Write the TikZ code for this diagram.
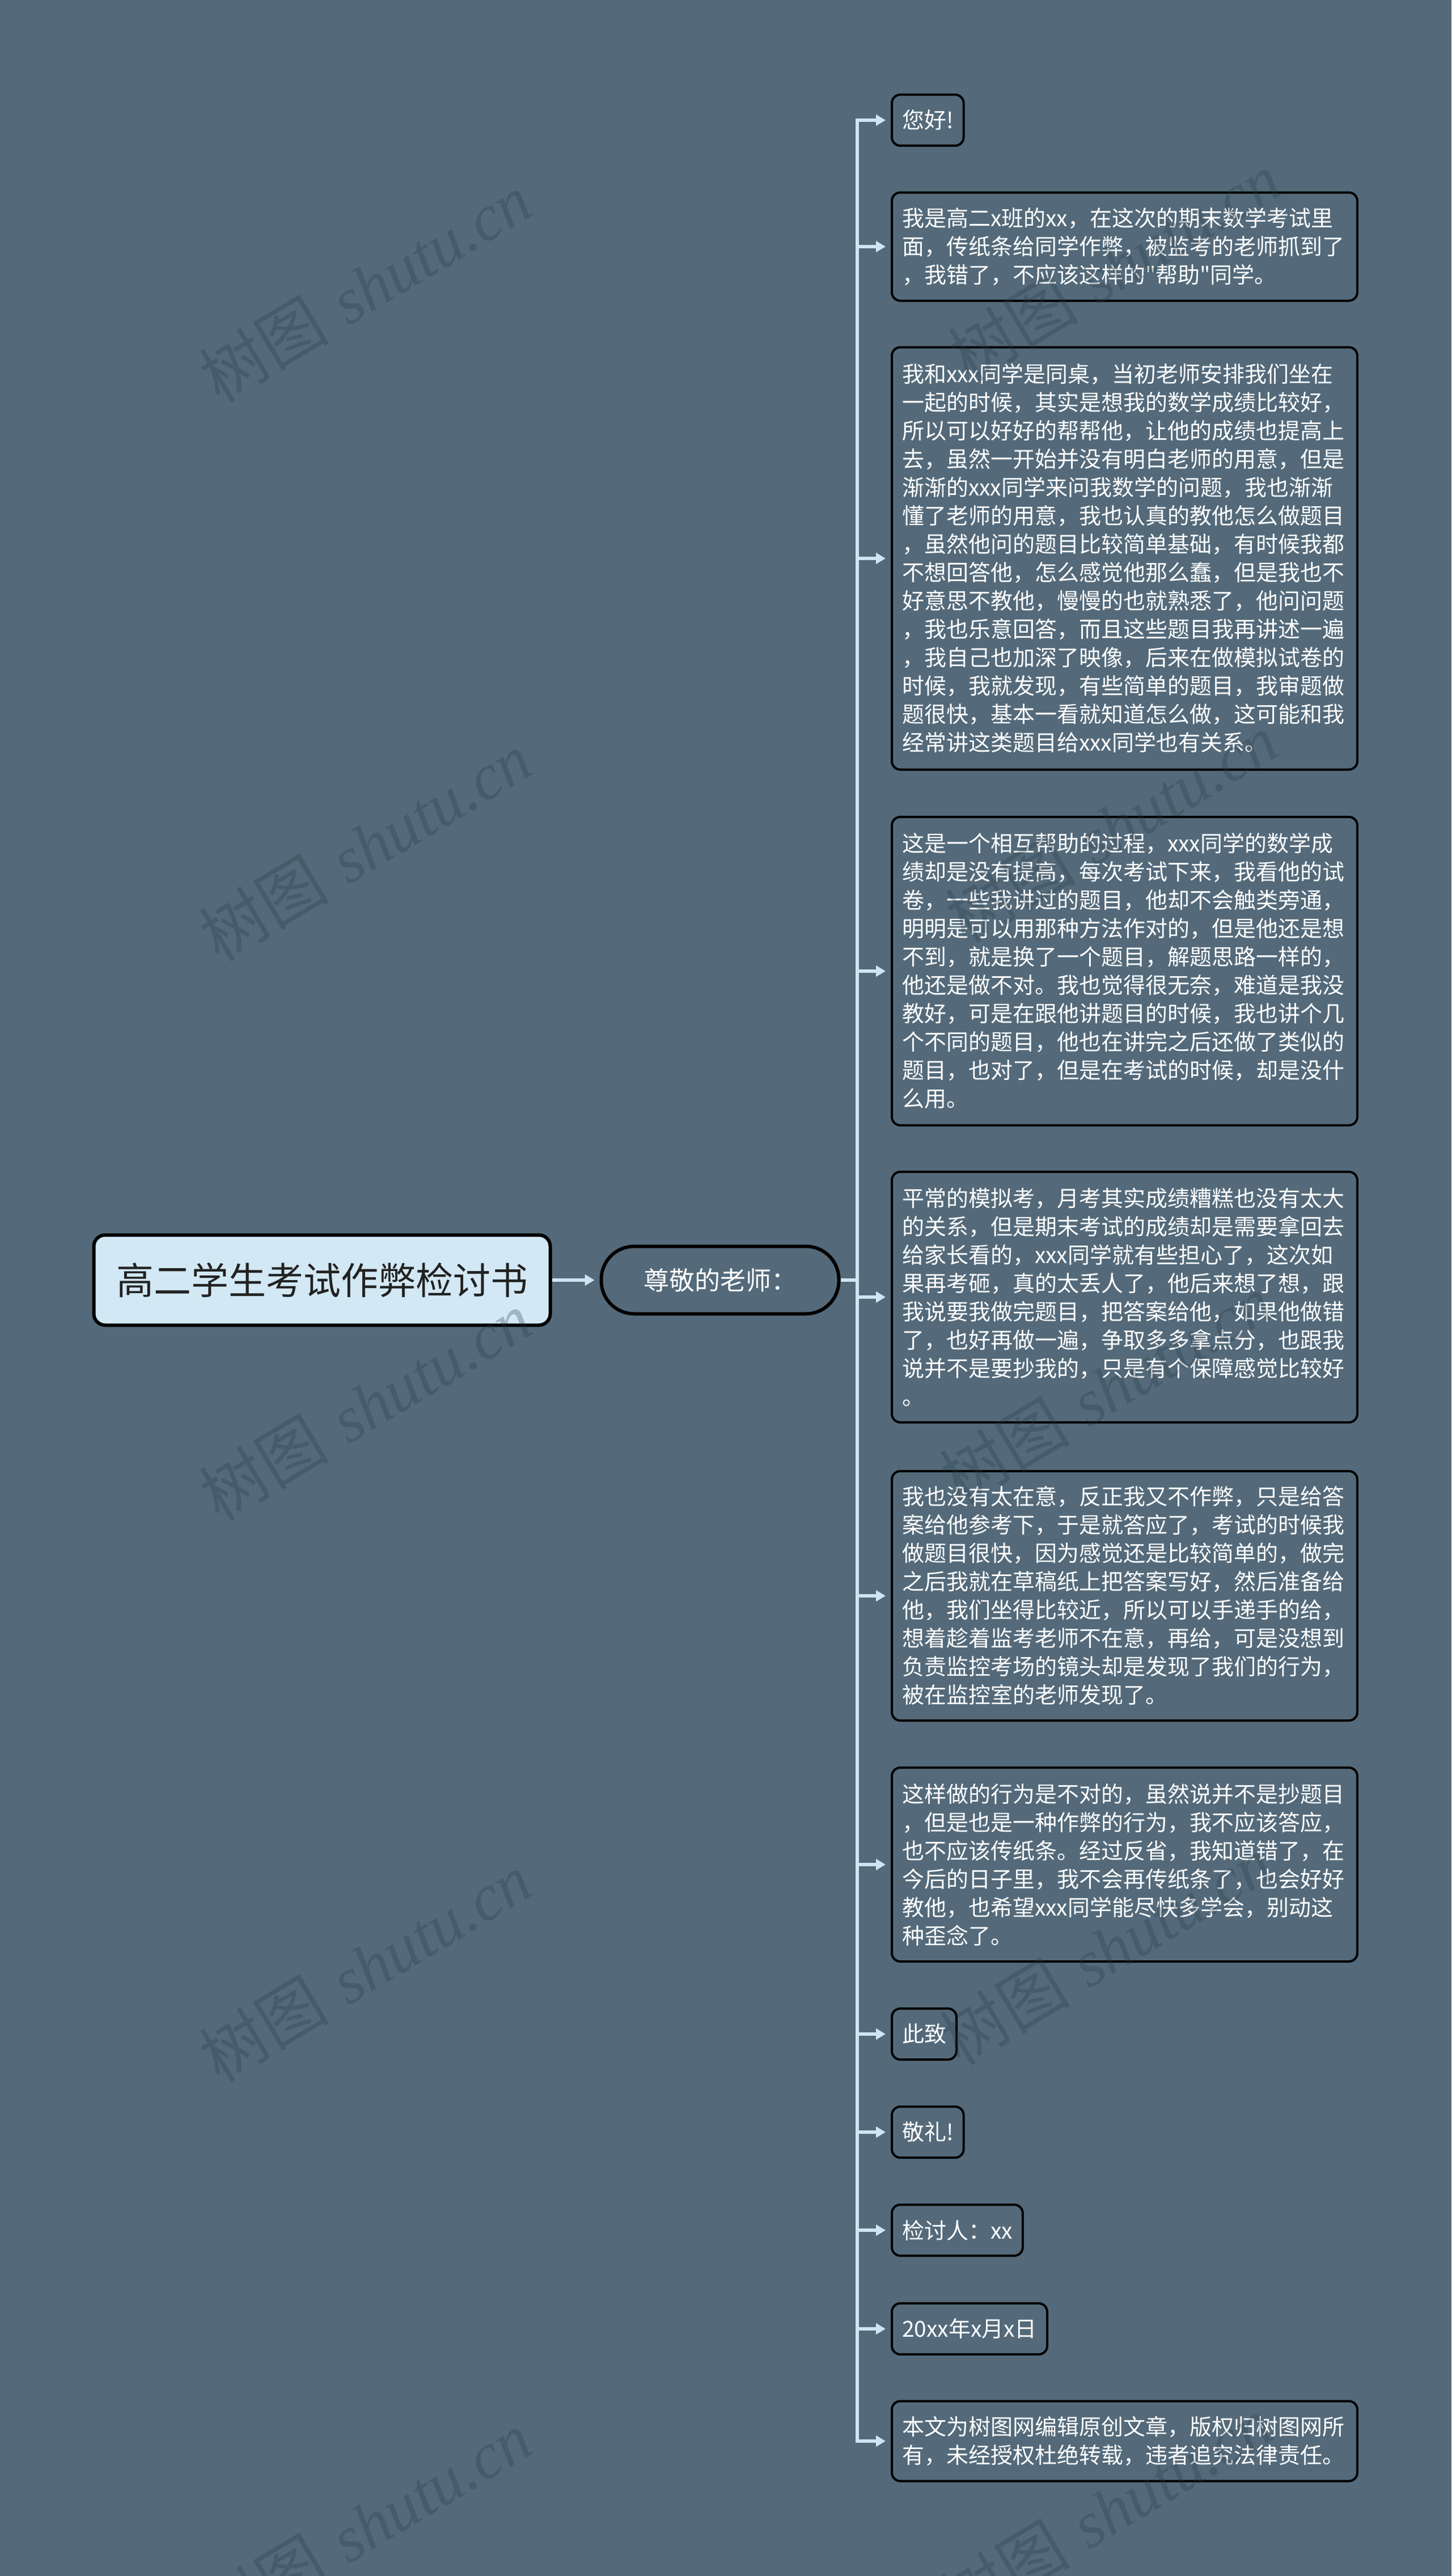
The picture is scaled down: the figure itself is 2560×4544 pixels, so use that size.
\documentclass[tikz,border=0pt]{standalone}
\usepackage{fontspec}
\newfontfamily\cjk{Noto Sans CJK SC}
\newfontfamily\wmlat{Liberation Serif}
\usetikzlibrary{arrows.meta}
\definecolor{bg}{RGB}{84,106,122}
\definecolor{connc}{RGB}{207,229,242}
\definecolor{rootfill}{RGB}{210,232,244}
\definecolor{wmc}{RGB}{40,60,75}
\tikzset{
  leaf/.style={draw=black, line width=4pt, fill=bg, rounded corners=15pt, anchor=west,
    font=\cjk\fontsize{39}{50}\selectfont, text=white, inner xsep=18pt, inner ysep=0pt,
    align=left, minimum height=90pt},
  bigleaf/.style={leaf, text width=785pt},
  rootbox/.style={draw=black, line width=6pt, fill=rootfill, rounded corners=20pt,
    font=\cjk\fontsize{66}{72}\selectfont, text={rgb,255:red,34;green,34;blue,34},
    minimum width=805pt, minimum height=159pt, inner sep=0pt},
  pill/.style={draw=black, line width=6pt, fill=bg, rounded corners=58pt,
    font=\cjk\fontsize{45}{50}\selectfont, text=white,
    minimum width=419pt, minimum height=119pt, inner sep=0pt},
  conn/.style={draw=connc, line width=6pt, -{Triangle[length=17pt,width=19pt]}, shorten >=9pt},
  plainline/.style={draw=connc, line width=6pt},
  wmark/.style={text=wmc, opacity=0.3, rotate=31, font=\fontsize{115}{120}\selectfont, inner sep=0pt},
}
\newcommand{\wmtext}{{\cjk 树图} {\wmlat\itshape shutu.cn}}
\begin{document}
\begin{tikzpicture}[x=1pt,y=-1pt]
\useasboundingbox (0,0) rectangle (2560,4544);
\fill[bg] (0,0) rectangle (2560,4544);

% root and second level
\node[rootbox] (root) at (568,2258) {高二学生考试作弊检讨书};
\node[pill] (n2) at (1270,2258) {尊敬的老师：};

% children
\node[leaf] (c1) at (1571,212) {您好!};
\node[bigleaf, minimum height=191pt] (c2) at (1571,435) {我是高二x班的xx，在这次的期末数学考试里\\面，传纸条给同学作弊，被监考的老师抓到了\\，我错了，不应该这样的"帮助"同学。};
\node[bigleaf, minimum height=745pt] (c3) at (1571,985) {我和xxx同学是同桌，当初老师安排我们坐在\\一起的时候，其实是想我的数学成绩比较好，\\所以可以好好的帮帮他，让他的成绩也提高上\\去，虽然一开始并没有明白老师的用意，但是\\渐渐的xxx同学来问我数学的问题，我也渐渐\\懂了老师的用意，我也认真的教他怎么做题目\\，虽然他问的题目比较简单基础，有时候我都\\不想回答他，怎么感觉他那么蠢，但是我也不\\好意思不教他，慢慢的也就熟悉了，他问问题\\，我也乐意回答，而且这些题目我再讲述一遍\\，我自己也加深了映像，后来在做模拟试卷的\\时候，我就发现，有些简单的题目，我审题做\\题很快，基本一看就知道怎么做，这可能和我\\经常讲这类题目给xxx同学也有关系。};
\node[bigleaf, minimum height=544pt] (c4) at (1571,1713) {这是一个相互帮助的过程，xxx同学的数学成\\绩却是没有提高，每次考试下来，我看他的试\\卷，一些我讲过的题目，他却不会触类旁通，\\明明是可以用那种方法作对的，但是他还是想\\不到，就是换了一个题目，解题思路一样的，\\他还是做不对。我也觉得很无奈，难道是我没\\教好，可是在跟他讲题目的时候，我也讲个几\\个不同的题目，他也在讲完之后还做了类似的\\题目，也对了，但是在考试的时候，却是没什\\么用。};
\node[bigleaf, minimum height=442pt] (c5) at (1571,2288) {平常的模拟考，月考其实成绩糟糕也没有太大\\的关系，但是期末考试的成绩却是需要拿回去\\给家长看的，xxx同学就有些担心了，这次如\\果再考砸，真的太丢人了，他后来想了想，跟\\我说要我做完题目，把答案给他，如果他做错\\了，也好再做一遍，争取多多拿点分，也跟我\\说并不是要抄我的，只是有个保障感觉比较好\\。};
\node[bigleaf, minimum height=440pt] (c6) at (1571,2815) {我也没有太在意，反正我又不作弊，只是给答\\案给他参考下，于是就答应了，考试的时候我\\做题目很快，因为感觉还是比较简单的，做完\\之后我就在草稿纸上把答案写好，然后准备给\\他，我们坐得比较近，所以可以手递手的给，\\想着趁着监考老师不在意，再给，可是没想到\\负责监控考场的镜头却是发现了我们的行为，\\被在监控室的老师发现了。};
\node[bigleaf, minimum height=342pt] (c7) at (1571,3289) {这样做的行为是不对的，虽然说并不是抄题目\\，但是也是一种作弊的行为，我不应该答应，\\也不应该传纸条。经过反省，我知道错了，在\\今后的日子里，我不会再传纸条了，也会好好\\教他，也希望xxx同学能尽快多学会，别动这\\种歪念了。};
\node[leaf] (c8) at (1571,3588) {此致};
\node[leaf] (c9) at (1571,3761) {敬礼!};
\node[leaf] (c10) at (1571,3934) {检讨人：xx};
\node[leaf] (c11) at (1571,4108) {20xx年x月x日};
\node[bigleaf, minimum height=141pt] (c12) at (1571,4306) {本文为树图网编辑原创文章，版权归树图网所\\有，未经授权杜绝转载，违者追究法律责任。};

% connectors
\coordinate (trunk) at (1512,2258);
\draw[conn] (root.east) -- (n2.west);
\draw[plainline] (n2.east) -- (trunk);
\foreach \c in {c1,c2,c3,c4,c5,c6,c7,c8,c9,c10,c11,c12}{
  \draw[conn] (trunk) |- (\c.west);
}

% watermarks
\foreach \i/\wx/\wy in {1/644/507,2/644/1493,3/644/2480,4/644/3470,5/644/4455,
                         6/1965/470,7/1960/1460,8/1950/2450,9/1950/3440,10/1950/4430}{
  \node[wmark] (w\i) at (\wx,\wy) {\wmtext};
}
\end{tikzpicture}
\end{document}
